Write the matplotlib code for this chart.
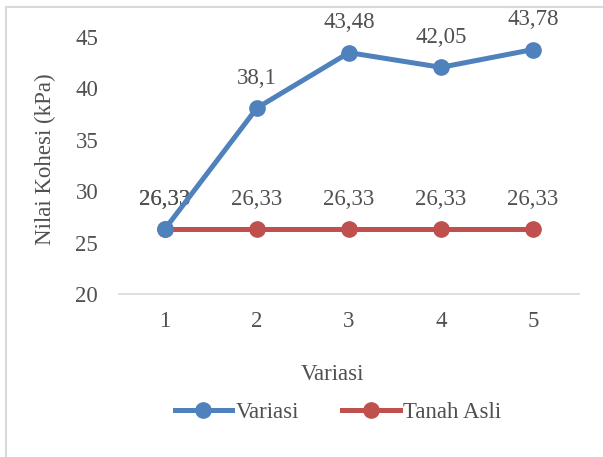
import matplotlib
matplotlib.use("Agg")
import matplotlib.pyplot as plt
from matplotlib.patches import Rectangle
from matplotlib.lines import Line2D

categories = [1, 2, 3, 4, 5]
variasi = [26.33, 38.1, 43.48, 42.05, 43.78]
tanah_asli = [26.33, 26.33, 26.33, 26.33, 26.33]
yticks = [20, 25, 30, 35, 40, 45]

BLUE = "#4F81BD"
RED = "#C0504D"
TXT = "#505050"
GRID = "#D9D9D9"

plt.rcParams['font.family'] = ['Liberation Serif', 'DejaVu Serif']
FS = 16.5

W, H = 603, 457
fig = plt.figure(figsize=(W/100, H/100), dpi=100)
fig.patches.append(Rectangle((6/W, -0.1), 1.1, 1 - 7/H + 0.1, transform=fig.transFigure,
                             fill=False, edgecolor=GRID, linewidth=1.5))

ax = fig.add_axes([119/W, 1 - 294/H, 460/W, 257/H])
x = list(range(len(categories)))
ax.plot(x, tanah_asli, color=RED, lw=3.6, marker='o', ms=11, solid_capstyle='round', zorder=3)
ax.plot(x, variasi, color=BLUE, lw=3.6, marker='o', ms=11, solid_capstyle='round', zorder=4)

def fmt(v):
    s = ("%.2f" % v).rstrip('0').rstrip('.')
    return s.replace('.', ',')

for xi, v in zip(x, tanah_asli):
    ax.annotate(fmt(v), (xi, v), xytext=(0, 21.5), textcoords='offset points',
                ha='center', va='center', fontsize=FS, color=TXT)
for xi, v in zip(x, variasi):
    ax.annotate(fmt(v), (xi, v), xytext=(0, 21.5), textcoords='offset points',
                ha='center', va='center', fontsize=FS, color=TXT)

ax.set_xlim(-0.5, len(categories) - 0.5)
ax.set_ylim(20, 45)
ax.set_yticks(yticks)
ax.set_yticklabels([str(t) for t in yticks])
ax.set_xticks(x)
ax.set_xticklabels([str(c) for c in categories])
ax.tick_params(axis='both', length=0, labelsize=FS, labelcolor=TXT)
ax.tick_params(axis='y', pad=15)
ax.tick_params(axis='x', pad=12)
for s in ['top', 'right', 'left']:
    ax.spines[s].set_visible(False)
ax.spines['bottom'].set_color(GRID)
ax.spines['bottom'].set_linewidth(1.2)
ax.patch.set_alpha(0)

fig.text(45/W, 1 - 159/H, "Nilai Kohesi (kPa)", rotation=90, ha='center', va='center',
         fontsize=FS, color=TXT)
fig.text(332/W, 1 - 375/H, "Variasi", ha='center', va='center', fontsize=FS, color=TXT)

handles = [Line2D([], [], color=BLUE, lw=3.6, marker='o', ms=11),
           Line2D([], [], color=RED, lw=3.6, marker='o', ms=11)]
leg = fig.legend(handles, ["Variasi", "Tanah Asli"], loc='center', bbox_to_anchor=(338/W, 1 - 412/H),
                 ncol=2, frameon=False, fontsize=FS, handlelength=2.5, handletextpad=0.15,
                 columnspacing=1.9, labelcolor=TXT, borderpad=0, borderaxespad=0)

fig.savefig("out.png", dpi=100)
